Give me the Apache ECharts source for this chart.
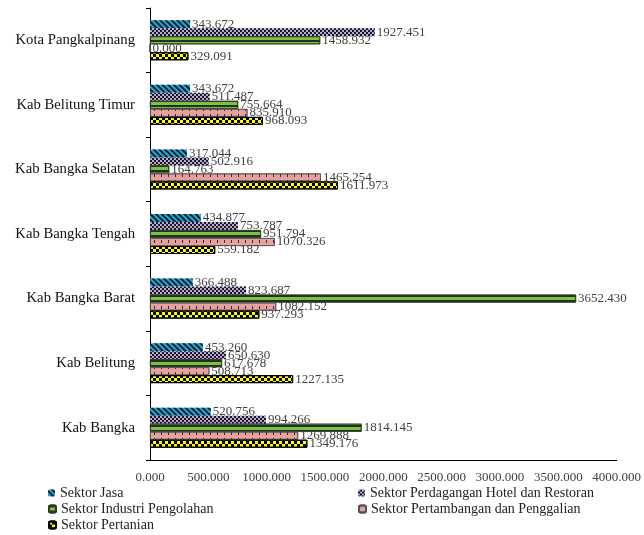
<!DOCTYPE html>
<html><head><meta charset="utf-8">
<script src="https://cdn.jsdelivr.net/npm/echarts@6/dist/echarts.min.js"></script>
<style>html,body{margin:0;padding:0;background:#fff}#c{width:644px;height:535px}</style>
</head><body><div id="c"></div>
<script>
const categories = ["Kab Bangka","Kab Belitung","Kab Bangka Barat","Kab Bangka Tengah","Kab Bangka Selatan","Kab Belitung Timur","Kota Pangkalpinang"];
const jasa = [520.756, 453.260, 366.488, 434.877, 317.044, 343.672, 343.672];
const perdagangan = [994.266, 650.630, 823.687, 753.787, 502.916, 511.487, 1927.451];
const industri = [1814.145, 617.678, 3652.430, 951.794, 164.763, 755.664, 1458.932];
const pertambangan = [1269.888, 508.713, 1082.152, 1070.326, 1465.254, 835.910, 0.000];
const pertanian = [1349.176, 1227.135, 937.293, 559.182, 1611.973, 968.093, 329.091];
const xTicks = {min: 0, max: 4000, interval: 500};

const serif = 'Liberation Serif, Times New Roman, serif';
const label = {show: true, position: 'right', distance: 2, fontFamily: serif, fontSize: 13, color: '#404040',
  formatter: p => p.value.toFixed(3)};

function s(name, data, color, decal, extra) {
  return {name, type: 'bar', data, barWidth: 8, barGap: '0%', label,
    itemStyle: Object.assign({color, decal}, extra || {})};
}

const series = [
  s('Sektor Jasa', jasa, '#1fa8d8',
    {symbol: 'rect', symbolSize: 1, dashArrayX: [1,0], dashArrayY: [2,2], rotation: Math.PI/4, color: '#10202a'},
    {}),
  s('Sektor Perdagangan Hotel dan Restoran', perdagangan, '#b9a7dc',
    {symbol: 'rect', symbolSize: 1, dashArrayX: [[2,2],[0,2,2,0]], dashArrayY: [2,0], color: '#1a1a1a'},
    {}),
  s('Sektor Industri Pengolahan', industri, '#7cc242',
    {symbol: 'rect', symbolSize: 1, dashArrayX: [1,0], dashArrayY: [2,3], color: '#263020'},
    {borderColor: '#2d3a22', borderWidth: 0.8}),
  s('Sektor Pertambangan dan Penggalian', pertambangan, '#e6a09e',
    {symbol: 'rect', symbolSize: 1, dashArrayX: [1,6], dashArrayY: [3,3], color: '#3a2a2a'},
    {borderColor: '#555', borderWidth: 0.8}),
  s('Sektor Pertanian', pertanian, '#ffff00',
    {symbol: 'rect', symbolSize: 1, dashArrayX: [[3,3],[0,3,3,0]], dashArrayY: [3,0], color: '#000'},
    {borderColor: '#000', borderWidth: 1})
];

const legendText = {fontFamily: serif, fontSize: 14, color: '#222'};
function lg(name, left, top) {
  return {left, top, itemWidth: 7, itemHeight: 7, padding: 0, textStyle: legendText,
    data: [name], selectedMode: false};
}
const chart = echarts.init(document.getElementById('c'));
chart.setOption({
  animation: false,
  backgroundColor: '#fff',
  grid: {left: 150, right: 18, top: 8, bottom: 75, containLabel: false},
  xAxis: {type: 'value', min: xTicks.min, max: xTicks.max, interval: xTicks.interval,
    axisLine: {show: true, lineStyle: {color: '#000', width: 1}},
    axisTick: {show: false}, splitLine: {show: false},
    axisLabel: {fontFamily: serif, fontSize: 13, color: '#404040', margin: 11,
      formatter: v => v.toFixed(3)}},
  yAxis: {type: 'category', data: categories,
    axisLine: {show: true, lineStyle: {color: '#000', width: 1}},
    axisTick: {show: true, length: 4, inside: false, lineStyle: {color: '#000'}},
    axisLabel: {fontFamily: serif, fontSize: 14.7, color: '#111', margin: 15}},
  legend: [
    lg('Sektor Jasa', 48, 486),
    lg('Sektor Industri Pengolahan', 48, 502),
    lg('Sektor Pertanian', 48, 518),
    lg('Sektor Perdagangan Hotel dan Restoran', 358, 486),
    lg('Sektor Pertambangan dan Penggalian', 358, 502)
  ],
  series
});
</script></body></html>
